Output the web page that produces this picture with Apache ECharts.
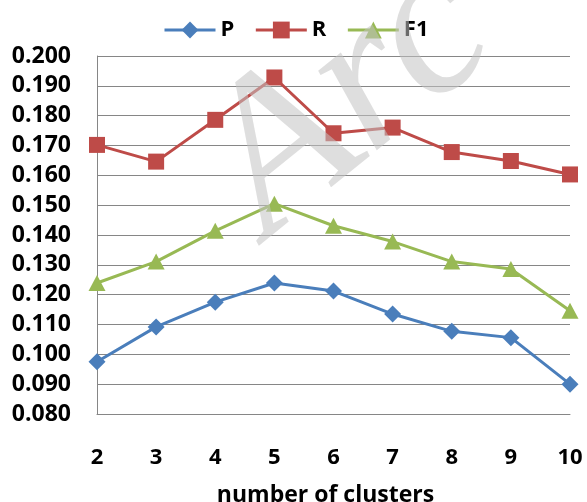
<!DOCTYPE html>
<html>
<head>
<meta charset="utf-8">
<style>
  html, body { margin: 0; padding: 0; background: #fff; }
  #chart { width: 587px; height: 502px; }
</style>
<script src="https://cdn.jsdelivr.net/npm/echarts@6/dist/echarts.min.js"></script>
</head>
<body>
<div id="chart"></div>
<script>
// Number of clusters on the x axis
var clusters = ['2', '3', '4', '5', '6', '7', '8', '9', '10'];
// Precision, recall and F1 for each cluster count
var precision = [0.0975, 0.1092, 0.1175, 0.1239, 0.1212, 0.1135, 0.1077, 0.1056, 0.0900];
var recall    = [0.1702, 0.1646, 0.1786, 0.1928, 0.1741, 0.1760, 0.1678, 0.1648, 0.1603];
var f1        = [0.1239, 0.1311, 0.1414, 0.1505, 0.1431, 0.1378, 0.1311, 0.1286, 0.1146];

var FONT = '"Open Sans", "Liberation Sans", sans-serif';
var GRID = '#868686';

var chart = echarts.init(document.getElementById('chart'), null, { renderer: 'canvas' });

function lineSeries(name, data, symbol, size, color) {
  return {
    name: name,
    type: 'line',
    data: data,
    symbol: symbol,
    symbolSize: size,
    showAllSymbol: true,
    lineStyle: { width: 3, color: color },
    itemStyle: { color: color },
    emphasis: { disabled: true },
    animation: false
  };
}

chart.setOption({
  animation: false,
  legend: {
    left: 158,
    top: 14,
    itemWidth: 51,
    itemHeight: 21,
    itemGap: 20,
    lineStyle: { width: 3 },
    textStyle: { fontFamily: FONT, fontWeight: 'bold', fontSize: 22, color: '#000' },
    data: ['P', 'R', 'F1']
  },
  grid: { left: 97, right: 17, top: 56, bottom: 88, containLabel: false, outerBoundsMode: 'none' },
  xAxis: {
    type: 'category',
    data: clusters,
    boundaryGap: false,
    name: 'number of clusters',
    nameLocation: 'middle',
    nameGap: 70,
    nameTextStyle: { fontFamily: FONT, fontWeight: 'bold', fontSize: 23, color: '#000', padding: [0, 16, 0, 0] },
    axisLine: { lineStyle: { color: GRID, width: 1 } },
    axisTick: { show: false },
    axisLabel: { fontFamily: FONT, fontWeight: 'bold', fontSize: 22, color: '#000', margin: 33 },
    splitLine: { show: false }
  },
  yAxis: {
    type: 'value',
    min: 0.08,
    max: 0.2,
    interval: 0.01,
    axisLine: { show: true, lineStyle: { color: GRID, width: 1 } },
    axisTick: { show: false },
    axisLabel: {
      fontFamily: FONT, fontWeight: 'bold', fontSize: 23, color: '#000', margin: 26,
      formatter: function (v) { return v.toFixed(3); }
    },
    splitLine: { lineStyle: { color: GRID, width: 1 } }
  },
  series: [
    lineSeries('P', precision, 'diamond', [17, 17], '#4A7EBB'),
    lineSeries('R', recall, 'rect', [16, 16], '#BE4B48'),
    lineSeries('F1', f1, 'triangle', [17, 16], '#98B954')
  ],
  graphic: [{
    type: 'text',
    x: 300,
    y: 278,
    rotation: 0.68,
    z: 100,
    silent: true,
    style: {
      text: 'Arc',
      font: 'italic 215px "Liberation Serif", serif',
      fill: 'rgba(195,195,195,0.55)',
      align: 'left',
      verticalAlign: 'bottom'
    }
  }]
});
</script>
</body>
</html>
